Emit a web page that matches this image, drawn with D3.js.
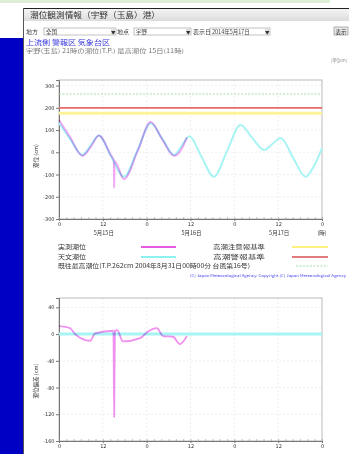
<!DOCTYPE html>
<html><head><meta charset="utf-8">
<script src="https://cdn.jsdelivr.net/npm/d3@7"></script>
<style>
html,body{margin:0;padding:0;background:#fff;overflow:hidden}
svg{display:block;font-family:"Noto Sans CJK JP","Noto Sans",sans-serif}
</style></head><body>
<svg id="c" width="349" height="454"></svg>
<script>
// ---------- data ----------
const xTickHours = [0, 12, 24, 36, 48, 60, 72];
const xTickLabels = ["0", "12", "0", "12", "0", "12", "0"];
const dateHours = [12, 36, 60];
const dateLabels = ["5月15日", "5月16日", "5月17日"];
const tideTicks = [300, 200, 100, 0, -100, -200, -300];
const devTicks = [40, 0, -40, -80, -120, -160];

const astroHours  = [0, 3, 6.4, 8.7, 10.9, 14.3, 17.8, 21.5, 25.1, 28.3, 31.5, 33.6, 35.7, 39, 42.4, 46, 49.7, 52.9, 56.1, 58.4, 60.7, 64.1, 67.5, 70, 72];
const astroValues = [133, 60, -12, 32, 75, -20, -110, 10, 130, 60, -12, 30, 72, -20, -110, 5, 123, 65, 10, 37, 64, -25, -110, -55, 19];

const obsHours  = [0, 3, 6.4, 8.7, 10.9, 14.3, 15.0, 15.1, 15.2, 17.8, 21.5, 25.1, 28.3, 31.5, 33.6, 35.0];
const obsValues = [145, 69, -16, 24, 76, -16, -36, -160, -40, -121, 4, 136, 57, -16, 16, 67];

const devHours  = [0, 3, 4.4, 8.5, 9.9, 14.9, 15.1, 15.3, 15.9, 17.5, 22.2, 24.4, 26.8, 28.5, 31.2, 33.1, 35];
const devValues = [12, 9, 0, -10, 1, 5, -124, 5, 6, -11, -6, 4, 9, -3, -4, -15, -3];

const advisoryLevel = 175;   // 高潮注意報基準
const warningLevel = 200;    // 高潮警報基準
const recordLevel = 262;     // 既往最高潮位

// ---------- page ----------
const svg = d3.select("#c");
svg.append("rect").attr("x",0).attr("y",0).attr("width",330).attr("height",3).attr("fill","#dcefd4");
svg.append("rect").attr("x",0).attr("y",38).attr("width",23).attr("height",416).attr("fill","#0000c4");
svg.append("line").attr("x1",23).attr("x2",349).attr("y1",8.5).attr("y2",8.5).attr("stroke","#222");
svg.append("line").attr("x1",23.5).attr("x2",23.5).attr("y1",8).attr("y2",454).attr("stroke","#555");
const grad = svg.append("defs").append("linearGradient").attr("id","tb").attr("x1",0).attr("x2",0).attr("y1",0).attr("y2",1);
grad.append("stop").attr("offset","0").attr("stop-color","#f4f4f4");
grad.append("stop").attr("offset","1").attr("stop-color","#dcdcdc");
svg.append("rect").attr("x",24).attr("y",9).attr("width",325).attr("height",12).attr("fill","url(#tb)");
svg.append("text").attr("x",30).attr("y",18).attr("font-size",8).attr("fill","#333")
  .attr("textLength",130).attr("lengthAdjust","spacingAndGlyphs").text("潮位観測情報（宇野（玉島）港）");

function selectBox(lx, label, bx, bw, val) {
  svg.append("text").attr("x",lx).attr("y",34).attr("font-size",6).attr("fill","#444").text(label);
  svg.append("rect").attr("x",bx).attr("y",28).attr("width",bw).attr("height",7).attr("fill","#fff").attr("stroke","#999").attr("stroke-width",0.6);
  svg.append("text").attr("x",bx+2).attr("y",34).attr("font-size",5.5).attr("fill","#444").text(val);
  svg.append("rect").attr("x",bx+bw-5).attr("y",28.5).attr("width",4.5).attr("height",6).attr("fill","#ddd");
  svg.append("text").attr("x",bx+bw-2.8).attr("y",33.5).attr("font-size",4.5).attr("text-anchor","middle").attr("fill","#333").text("▼");
}
selectBox(26, "地方", 44, 72, "全国");
selectBox(117, "地点", 134, 57, "宇野");
selectBox(193, "表示日", 210, 60, "2014年5月17日");
svg.append("rect").attr("x",334).attr("y",27).attr("width",14).attr("height",8).attr("fill","#e6e6e6").attr("stroke","#888").attr("stroke-width",0.6);
svg.append("text").attr("x",335.5).attr("y",33.5).attr("font-size",5.5).attr("fill","#333").text("表示");
svg.append("text").attr("x",26).attr("y",45).attr("font-size",6.5).attr("fill","#3333dd")
  .attr("textLength",84).attr("lengthAdjust","spacingAndGlyphs").text("上流側 警報区 気象台区");
svg.append("text").attr("x",26).attr("y",53).attr("font-size",5.5).attr("fill","#777")
  .attr("textLength",158).attr("lengthAdjust","spacingAndGlyphs").text("宇野(玉島) 21時の潮位(T.P.) 最高潮位 15日(11時)");
svg.append("text").attr("x",331).attr("y",62).attr("font-size",4.5).attr("fill","#888")
  .attr("textLength",16).attr("lengthAdjust","spacingAndGlyphs").text("(単位cm)");

// ---------- scales ----------
const x = d3.scaleLinear().domain([0,72]).range([59,322]);
const y1 = d3.scaleLinear().domain([-300,325]).range([219,80]);
const y2 = d3.scaleLinear().domain([-160,54]).range([441,298]);

function frame(y, ticks, title, tcy) {
  const [b, t] = y.range();
  const g = svg.append("g");
  ticks.forEach(v => {
    g.append("line").attr("x1",x(0)).attr("x2",x(72)).attr("y1",y(v)).attr("y2",y(v))
      .attr("stroke","#e4e4e4").attr("stroke-width",0.6).attr("stroke-dasharray","2,2");
  });
  [12,24,36,48,60].forEach(h => {
    g.append("line").attr("x1",x(h)).attr("x2",x(h)).attr("y1",t).attr("y2",b)
      .attr("stroke","#e4e4e4").attr("stroke-width",0.6).attr("stroke-dasharray","2,2");
  });
  g.append("rect").attr("x",x(0)).attr("y",t).attr("width",x(72)-x(0)).attr("height",b-t)
    .attr("fill","none").attr("stroke","#aaa").attr("stroke-width",0.8);
  const ya = svg.append("g").attr("transform",`translate(${x(0)},0)`)
    .call(d3.axisLeft(y).tickValues(ticks).tickSize(3).tickPadding(1.5).tickFormat(d=>d));
  ya.select(".domain").attr("stroke","#777");
  ya.selectAll("line").attr("stroke","#777");
  ya.selectAll("text").attr("font-size",5).attr("fill","#333").attr("font-family","DejaVu Sans");
  const xa = svg.append("g").attr("transform",`translate(0,${b})`)
    .call(d3.axisBottom(x).tickValues(xTickHours).tickSize(2).tickPadding(1).tickFormat((d,i)=>xTickLabels[i]));
  xa.select(".domain").attr("stroke","#777");
  xa.selectAll("line").attr("stroke","#777");
  xa.selectAll("text").attr("font-size",5).attr("fill","#333").attr("font-family","DejaVu Sans");
  const xm = svg.append("g").attr("transform",`translate(0,${b})`)
    .call(d3.axisBottom(x).tickValues(d3.range(0,73,2)).tickSize(-2).tickFormat(""));
  xm.select(".domain").remove();
  xm.selectAll("line").attr("stroke","#999").attr("stroke-width",0.6);
  svg.append("text").attr("transform",`translate(38,${tcy}) rotate(-90)`).attr("text-anchor","middle")
    .attr("font-size",5.5).attr("fill","#333").text(title);
}

// ---------- chart 1 ----------
frame(y1, tideTicks, "潮位 (cm)", 156);
const lvl = (v, col, w, dash) => svg.append("line").attr("x1",x(0)).attr("x2",x(72))
  .attr("y1",y1(v)).attr("y2",y1(v)).attr("stroke",col).attr("stroke-width",w).attr("stroke-dasharray",dash||null);
lvl(advisoryLevel, "#fff39a", 3);
lvl(warningLevel, "#e76a6a", 1.8);
lvl(recordLevel, "#9fdc9f", 0.9, "2,1.5");

const line1 = d3.line().curve(d3.curveMonotoneX).x(d=>x(d[0])).y(d=>y1(d[1]));
svg.append("path").datum(d3.zip(astroHours, astroValues)).attr("d",line1)
  .attr("fill","none").attr("stroke","#a8f4f4").attr("stroke-width",2);
svg.append("path").datum(d3.zip(obsHours, obsValues)).attr("d",line1)
  .attr("fill","none").attr("stroke","#f4a8f4").attr("stroke-width",2).style("mix-blend-mode","multiply");

// x date labels
dateHours.forEach((h,i) => svg.append("text").attr("x",x(h)+1).attr("y",235).attr("text-anchor","middle")
  .attr("font-size",5.5).attr("fill","#333").text(dateLabels[i]));
svg.append("text").attr("x",x(72)).attr("y",235).attr("text-anchor","middle").attr("font-size",5.5).attr("fill","#333").text("(時)");

// legend
const lt = (xx, yy, t, len) => svg.append("text").attr("x",xx).attr("y",yy).attr("font-size",6).attr("fill","#333")
  .attr("textLength",len).attr("lengthAdjust","spacingAndGlyphs").text(t);
const ll = (x1, x2, yy, col, w, dash) => svg.append("line").attr("x1",x1).attr("x2",x2).attr("y1",yy).attr("y2",yy)
  .attr("stroke",col).attr("stroke-width",w).attr("stroke-dasharray",dash||null);
lt(58, 249, "実測潮位", 28); ll(141, 176, 247, "#e45ae0", 1.8);
lt(58, 259, "天文潮位", 28); ll(141, 176, 257, "#8ef0f0", 1.8);
lt(213, 249, "高潮注意報基準", 52); ll(292, 328, 247, "#fff080", 2);
lt(213, 259, "高潮警報基準", 52); ll(292, 328, 257, "#d85050", 1.5);
lt(58, 268, "既往最高潮位(T.P.262cm 2004年8月31日00時00分 台風第16号)", 192); ll(296, 328, 266, "#99dd99", 0.9, "2,1.5");
svg.append("text").attr("x",190).attr("y",277).attr("font-size",3.6).attr("fill","#4848ee")
  .attr("textLength",156).attr("lengthAdjust","spacingAndGlyphs")
  .text("(C) Japan Meteorological Agency. Copyright (C) Japan Meteorological Agency");

// ---------- chart 2 ----------
frame(y2, devTicks, "潮位偏差 (cm)", 381);
svg.append("line").attr("x1",x(0)).attr("x2",x(72)).attr("y1",y2(0)).attr("y2",y2(0))
  .attr("stroke","#a8f4f4").attr("stroke-width",3);
const line2 = d3.line().curve(d3.curveMonotoneX).x(d=>x(d[0])).y(d=>y2(d[1]));
svg.append("path").datum(d3.zip(devHours, devValues)).attr("d",line2)
  .attr("fill","none").attr("stroke","#f090f0").attr("stroke-width",1.8).style("mix-blend-mode","multiply");
</script>
</body></html>
